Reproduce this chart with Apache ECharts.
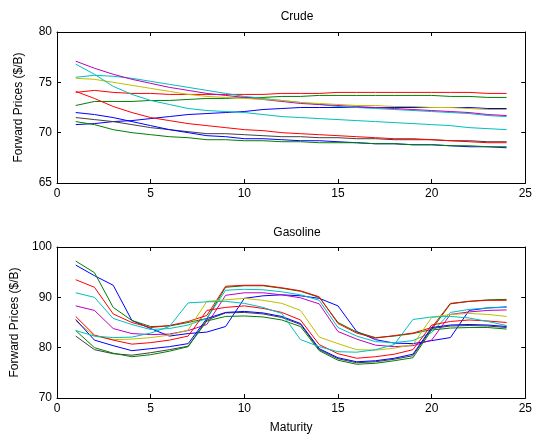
<!DOCTYPE html>
<html>
<head>
<meta charset="utf-8">
<script src="https://cdn.jsdelivr.net/npm/echarts@6/dist/echarts.min.js"></script>
<style>
html, body { margin: 0; padding: 0; background: #fff; }
#main { width: 535px; height: 437px; }
</style>
</head>
<body>
<div id="main"></div>
<script>
// maturities (months)
var maturity = [1,2,3,4,5,6,7,8,9,10,11,12,13,14,15,16,17,18,19,20,21,22,23,24];

var xTicks = [0, 5, 10, 15, 20, 25];
var crudeTicks = [65, 70, 75, 80];
var gasTicks = [70, 80, 90, 100];

// matlab colour order b g r c m y k b g r c
var lineColors = ['#0000ff','#008000','#ff0000','#00bfbf','#bf00bf','#bfbf00','#404040','#0000ff','#008000','#ff0000','#00bfbf'];

// crude forward curves
var crude1 = [70.8,70.9,71.1,71.2,71.4,71.6,71.8,71.9,72.0,72.1,72.3,72.4,72.5,72.5,72.5,72.5,72.5,72.5,72.5,72.5,72.5,72.5,72.4,72.4];
var crude2 = [72.7,73.1,73.1,73.1,73.2,73.2,73.3,73.4,73.4,73.5,73.5,73.6,73.6,73.7,73.7,73.7,73.7,73.7,73.7,73.7,73.6,73.6,73.5,73.5];
var crude3 = [74.0,74.2,74.0,73.9,73.9,73.8,73.8,73.8,73.8,73.8,73.8,73.9,73.9,73.9,74.0,74.0,74.0,74.0,74.0,74.0,74.0,74.0,73.9,73.9];
var crude4 = [75.5,75.7,75.6,75.4,75.1,74.8,74.5,74.2,73.9,73.6,73.4,73.2,73.0,72.8,72.6,72.5,72.4,72.3,72.2,72.1,72.0,71.9,71.7,71.6];
var crude5 = [77.1,76.4,75.8,75.3,74.9,74.5,74.2,73.9,73.7,73.5,73.3,73.1,72.9,72.8,72.7,72.6,72.5,72.4,72.3,72.2,72.1,72.0,71.8,71.7];
var crude6 = [75.4,75.3,75.0,74.7,74.4,74.1,73.8,73.6,73.5,73.4,73.3,73.2,73.0,72.9,72.8,72.7,72.7,72.6,72.6,72.5,72.5,72.4,72.3,72.3];
var crude7 = [71.5,71.3,71.1,70.8,70.5,70.3,70.1,69.9,69.9,69.8,69.7,69.6,69.6,69.5,69.5,69.4,69.4,69.3,69.3,69.3,69.2,69.2,69.1,69.1];
var crude8 = [72.0,71.8,71.5,71.1,70.7,70.3,70.0,69.7,69.6,69.4,69.4,69.3,69.2,69.2,69.1,69.0,68.9,68.9,68.8,68.8,68.7,68.6,68.6,68.5];
var crude9 = [71.1,70.8,70.3,70.0,69.8,69.6,69.5,69.3,69.3,69.2,69.2,69.1,69.1,69.0,69.0,69.0,68.9,68.9,68.8,68.8,68.7,68.7,68.6,68.6];
var crude10 = [74.1,73.4,72.6,72.0,71.5,71.2,70.9,70.7,70.5,70.3,70.2,70.0,69.9,69.8,69.7,69.6,69.5,69.4,69.4,69.3,69.2,69.1,69.0,69.0];
var crude11 = [76.8,75.8,74.6,73.8,73.2,72.8,72.4,72.2,72.1,72.0,71.8,71.6,71.5,71.4,71.3,71.2,71.1,71.0,70.9,70.8,70.7,70.5,70.4,70.3];

// gasoline forward curves
var gas1 = [96.4,94.3,92.4,85.4,83.8,82.3,82.8,83.1,84.2,89.8,90.3,90.5,90.3,89.8,88.3,83.2,81.6,80.9,80.8,81.4,82.0,87.4,87.9,88.1];
var gas2 = [97.2,94.9,88.0,85.4,84.2,84.3,85.0,85.8,92.0,92.3,92.3,91.8,91.2,90.0,85.0,83.1,82.0,82.3,82.8,83.6,88.7,89.2,89.5,89.6];
var gas3 = [93.5,92.0,86.7,85.0,84.0,84.4,85.2,86.4,92.2,92.4,92.4,91.9,91.3,90.1,84.8,82.9,81.9,82.4,82.9,84.0,88.8,89.2,89.4,89.4];
var gas4 = [90.9,90.0,85.8,84.6,83.6,83.8,84.5,85.8,91.4,91.6,91.5,91.1,90.5,89.4,84.0,82.3,81.2,81.0,81.4,83.0,87.0,87.6,87.9,88.0];
var gas5 = [88.3,87.4,83.8,82.8,82.6,82.7,83.4,84.6,90.4,90.9,90.9,90.5,89.9,88.7,83.2,81.7,80.5,80.2,80.4,81.5,86.6,87.1,87.4,87.5];
var gas6 = [85.3,82.3,81.6,81.7,82.0,82.5,83.5,89.2,89.5,89.8,89.4,88.8,87.4,82.1,80.8,79.6,79.5,79.9,80.6,86.0,86.6,86.8,86.6,86.2];
var gas7 = [82.3,79.6,78.8,78.5,79.0,79.6,80.3,85.5,86.9,87.0,86.7,86.0,84.6,79.6,77.8,77.0,77.2,77.7,78.4,83.8,84.3,84.4,84.3,84.0];
var gas8 = [85.6,81.5,80.4,79.4,79.8,80.2,80.8,85.8,87.0,87.2,86.9,86.2,84.8,79.8,78.0,77.2,77.4,77.9,78.7,84.0,84.5,84.6,84.5,84.2];
var gas9 = [83.4,80.0,78.9,78.2,78.6,79.3,80.2,85.3,86.2,86.3,86.1,85.5,84.2,79.4,77.5,76.7,76.9,77.4,78.0,83.5,83.9,84.0,84.0,83.7];
var gas10 = [86.2,82.5,81.5,80.7,81.0,81.5,82.3,87.4,88.0,88.3,87.8,87.0,85.5,80.6,78.8,77.9,78.2,78.7,79.6,84.5,85.2,85.5,85.3,85.0];
var gas11 = [83.4,82.3,82.0,82.1,82.9,84.2,88.9,89.1,89.2,88.8,88.0,86.8,81.6,80.2,79.2,79.1,79.6,80.6,85.6,86.1,86.2,85.9,85.2,84.4];

var crudeCurves = [crude1,crude2,crude3,crude4,crude5,crude6,crude7,crude8,crude9,crude10,crude11];
var gasCurves = [gas1,gas2,gas3,gas4,gas5,gas6,gas7,gas8,gas9,gas10,gas11];

var font = 'Liberation Sans, Arial, sans-serif';

function pairs(vals) {
    return maturity.map(function (m, i) { return [m, vals[i]]; });
}

function makeSeries(curves, axisIdx) {
    return curves.map(function (c, i) {
        return {
            type: 'line',
            xAxisIndex: axisIdx,
            yAxisIndex: axisIdx,
            data: pairs(c),
            showSymbol: false,
            symbol: 'none',
            lineStyle: { width: 1, color: lineColors[i] },
            silent: true
        };
    });
}

function xAx(grid, pos, showLabels, name) {
    return {
        type: 'value', gridIndex: grid, position: pos,
        min: xTicks[0], max: xTicks[xTicks.length - 1], interval: 5,
        axisLine: { show: true, onZero: false, lineStyle: { color: '#000', width: 1 } },
        axisTick: { show: true, inside: true, length: 4, lineStyle: { color: '#000' } },
        axisLabel: { show: showLabels, color: '#000', fontSize: 12, fontFamily: font, margin: 5 },
        splitLine: { show: false },
        name: name || '', nameLocation: 'middle', nameGap: 24,
        nameTextStyle: { color: '#000', fontSize: 12, fontFamily: font }
    };
}

function yAx(grid, pos, ticks, showLabels, name) {
    return {
        type: 'value', gridIndex: grid, position: pos,
        min: ticks[0], max: ticks[ticks.length - 1], interval: ticks[1] - ticks[0],
        axisLine: { show: true, onZero: false, lineStyle: { color: '#000', width: 1 } },
        axisTick: { show: true, inside: true, length: 4, lineStyle: { color: '#000' } },
        axisLabel: { show: showLabels, color: '#000', fontSize: 12, fontFamily: font, margin: 5 },
        splitLine: { show: false },
        name: name || '', nameLocation: 'middle', nameGap: 32,
        nameTextStyle: { color: '#000', fontSize: 12, fontFamily: font }
    };
}

var chart = echarts.init(document.getElementById('main'));

chart.setOption({
    animation: false,
    backgroundColor: '#fff',
    title: [
        { text: 'Crude', left: 292, top: 6, textAlign: 'center',
          textStyle: { fontSize: 12, fontWeight: 'normal', color: '#000', fontFamily: font } },
        { text: 'Gasoline', left: 292, top: 222, textAlign: 'center',
          textStyle: { fontSize: 12, fontWeight: 'normal', color: '#000', fontFamily: font } }
    ],
    grid: [
        { left: 57, top: 32, width: 471, height: 151 },
        { left: 57, top: 247, width: 471, height: 151 }
    ],
    xAxis: [
        xAx(0, 'bottom', true),
        xAx(1, 'bottom', true, 'Maturity'),
        xAx(0, 'top', false),
        xAx(1, 'top', false)
    ],
    yAxis: [
        yAx(0, 'left', crudeTicks, true, 'Forward Prices ($/B)'),
        yAx(1, 'left', gasTicks, true, 'Forward Prices ($/B)'),
        yAx(0, 'right', crudeTicks, false),
        yAx(1, 'right', gasTicks, false)
    ],
    series: makeSeries(crudeCurves, 0).concat(makeSeries(gasCurves, 1))
});
</script>
</body>
</html>
